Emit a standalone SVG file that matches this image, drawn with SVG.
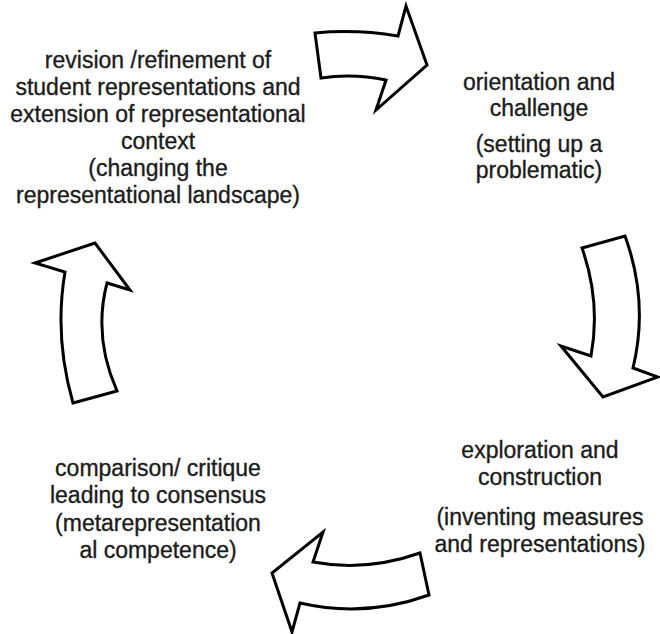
<svg xmlns="http://www.w3.org/2000/svg" width="660" height="634" viewBox="0 0 660 634">
<style>
.lbl{font-family:"Liberation Sans",Arial,sans-serif;font-size:23px;fill:#1c1c1c;stroke:#1c1c1c;stroke-width:0.35;text-anchor:middle}
.arr{fill:#fff;stroke:#000;stroke-width:3;stroke-linejoin:miter}
</style>
<rect width="660" height="634" fill="#fff"/>
<g id="connectors">
<path id="arrow-top" class="arr" d="M315,33 Q356,29 398,36 L406,6 L427,65 L376,110 L386,80 Q353,73 321,78 Z"/>
<path id="arrow-right" class="arr" d="M582,248 L625,236 Q649,302 633,368 L658,377 L603,397 L561,346 L591,356 Q601,302 582,248 Z"/>
<path id="arrow-bottom" class="arr" d="M420,553 L429,595 Q365,618 300,603 L292,632 L272,573 L323,532 L313,562 Q366,572 420,553 Z"/>
<path id="arrow-left" class="arr" d="M73,403 L117,391 Q93,337 107,283 L130,290 L95,243 L35,263 L65,272 Q54,337 73,403 Z"/>
</g>
<g id="node-revision">
<text class="lbl" x="158" y="68">revision /refinement of</text>
<text class="lbl" x="158" y="95">student representations and</text>
<text class="lbl" x="158" y="122">extension of representational</text>
<text class="lbl" x="158" y="149">context</text>
<text class="lbl" x="158" y="176">(changing the</text>
<text class="lbl" x="158" y="203">representational landscape)</text>
</g>
<g id="node-orientation">
<text class="lbl" x="539" y="90">orientation and</text>
<text class="lbl" x="539" y="116">challenge</text>
<text class="lbl" x="539" y="152">(setting up a</text>
<text class="lbl" x="539" y="178">problematic)</text>
</g>
<g id="node-exploration">
<text class="lbl" x="540" y="458">exploration and</text>
<text class="lbl" x="540" y="485">construction</text>
<text class="lbl" x="540" y="525">(inventing measures</text>
<text class="lbl" x="540" y="552">and representations)</text>
</g>
<g id="node-comparison">
<text class="lbl" x="158" y="476">comparison/ critique</text>
<text class="lbl" x="158" y="503">leading to consensus</text>
<text class="lbl" x="158" y="531">(metarepresentation</text>
<text class="lbl" x="158" y="558">al competence)</text>
</g>
</svg>
